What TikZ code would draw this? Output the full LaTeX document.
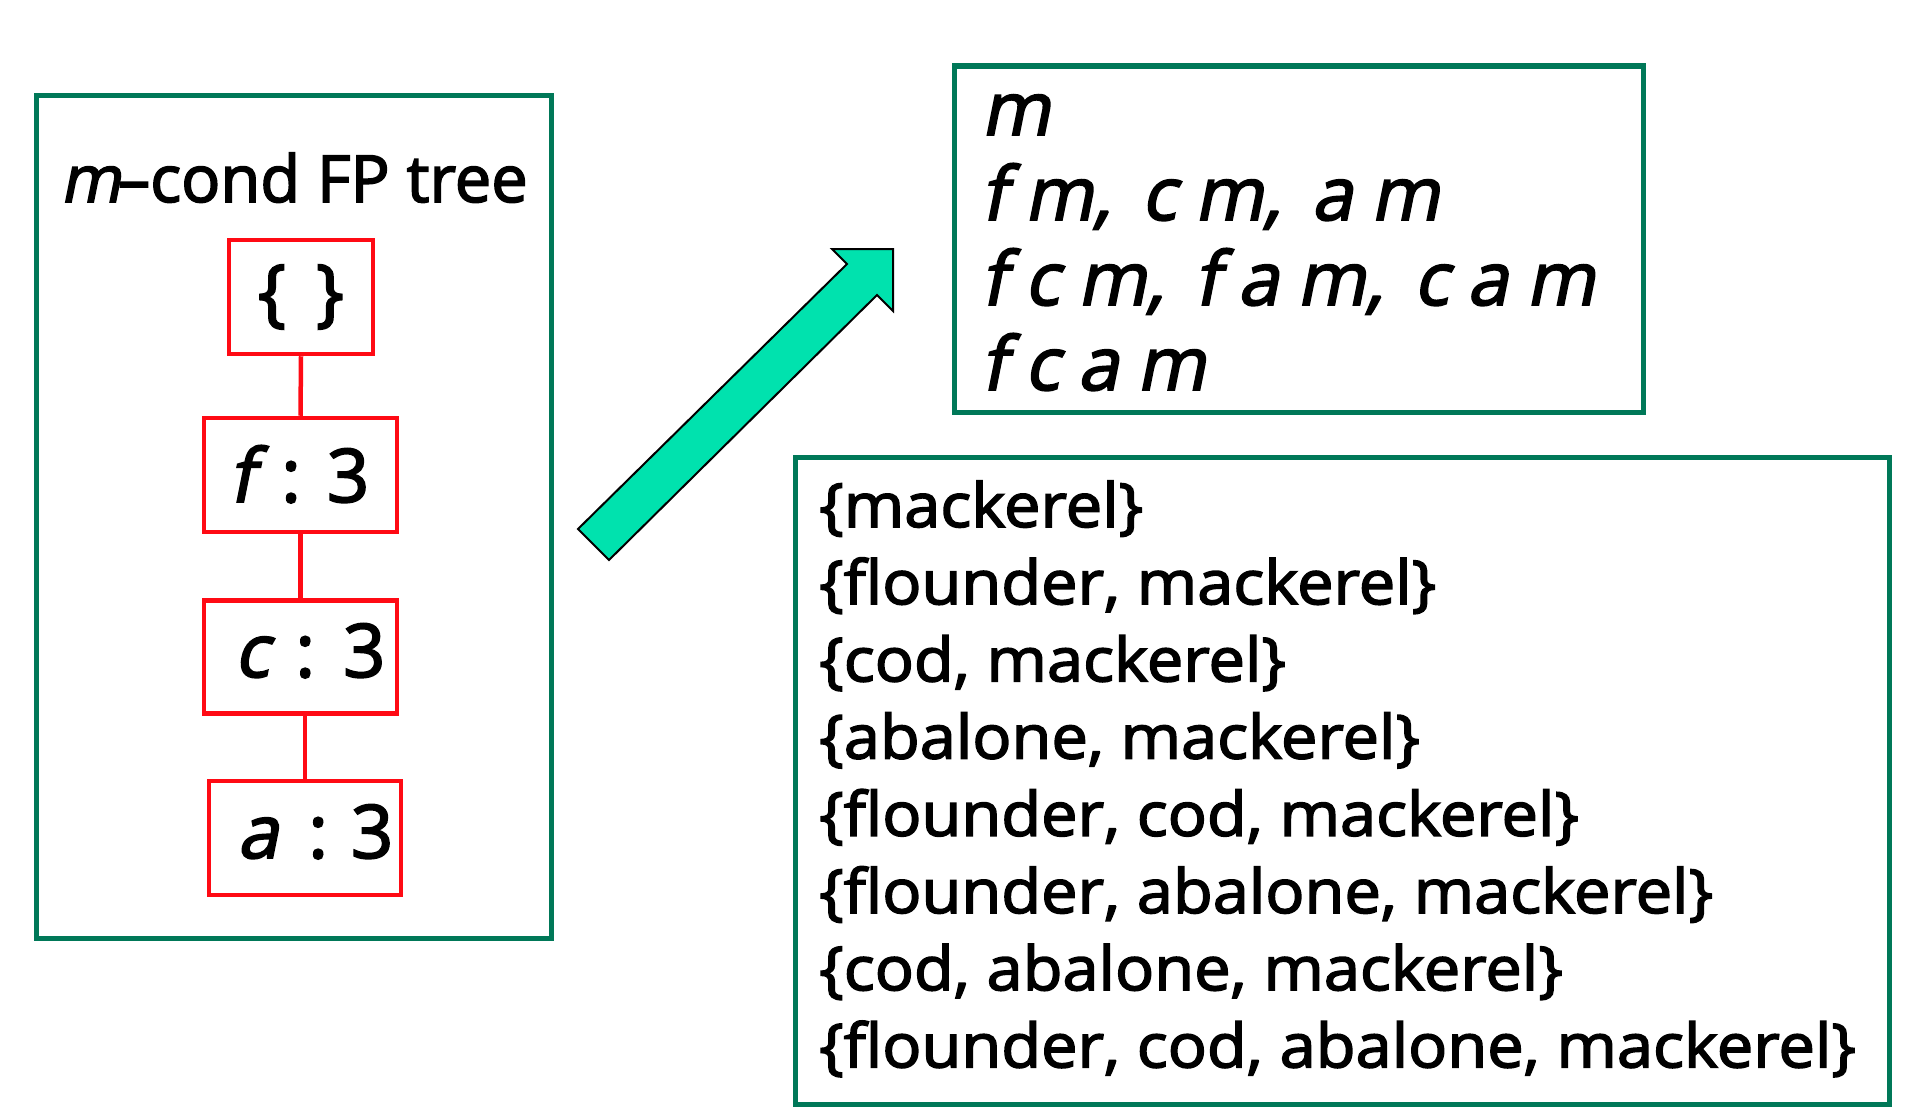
\documentclass[tikz,border=0pt]{standalone}
\usepackage{fontspec}
\setmainfont[FakeBold=2.5]{Open Sans}
\newfontfamily\slfont[FakeSlant=0.2,FakeBold=2.5]{Open Sans}
\newfontfamily\widefont[FakeStretch=1.065,FakeBold=2.5]{Open Sans}
\definecolor{boxgreen}{RGB}{0,120,88}
\definecolor{treered}{RGB}{255,10,20}
\definecolor{arrowfill}{RGB}{0,226,174}
\newcommand\lsp{\hspace{18pt}}
\newcommand\csp{\hspace{30pt}}
\begin{document}
\begin{tikzpicture}[x=1pt,y=-1pt,
  greenbox/.style={draw=boxgreen, line width=5pt},
  redbox/.style={draw=treered, line width=4.5pt, inner sep=0pt},
  redline/.style={draw=treered, line width=4.5pt},
  treetext/.style={font=\fontsize{74}{80}\selectfont, inner sep=0pt, anchor=base west},
  slanttext/.style={font=\slfont\fontsize{74}{80}\selectfont, inner sep=0pt, anchor=base west},
  settext/.style={font=\widefont\fontsize{61}{76}\selectfont, inner sep=0pt, anchor=base west},
  titletext/.style={font=\fontsize{65}{70}\selectfont, inner sep=0pt, anchor=base},
  bigarrow/.style={fill=arrowfill, draw=black, line width=2pt, line join=miter}
]
\useasboundingbox (0,0) rectangle (1918,1108);

% left frame
\draw[greenbox] (36,95) rectangle (551,938);
\node[titletext] (title) at (294,202) {{\slfont m}\hspace{-3pt}–cond FP tree};

% tree boxes
\node[redbox, minimum width=144pt, minimum height=114pt,
      font=\fontsize{74}{80}\selectfont] (r0) at (301,297) {\{\hspace{30pt}\}};
\node[redbox, minimum width=193pt, minimum height=114pt] (r1) at (300.5,475) {};
\node[redbox, minimum width=193pt, minimum height=113pt] (r2) at (300.5,657) {};
\node[redbox, minimum width=192pt, minimum height=114pt] (r3) at (305,838) {};

\node[treetext] (t1) at (229,502) {{\slfont f}\hspace{27pt}:\hspace{26pt}3};
\node[treetext] (t2) at (234,677) {{\slfont c}\hspace{26pt}:\hspace{28pt}3};
\node[treetext] (t3) at (237,858) {{\slfont a}\hspace{30pt}:\hspace{23pt}3};

\draw[redline] (r0.south) -- (r1.north);
\draw[redline] (r1.south) -- (r2.north);
\draw[redline] (r3.north) -- (r3.north |- r2.south);

% big arrow
\draw[bigarrow] (578,529) -- (847,264) -- (832,249) -- (893,249)
  -- (893,311) -- (877,295) -- (609,560) -- cycle;

% top-right frame
\draw[greenbox] (954,66) rectangle (1643,412);
\node[slanttext] (p1) at (981,135) {m};
\node[slanttext] (p2) at (981,220) {f\lsp m,\csp c\lsp m,\csp a\lsp m};
\node[slanttext] (p3) at (981,305) {f\lsp c\lsp m,\csp f\lsp a\lsp m,\csp c\lsp a\lsp m};
\node[slanttext] (p4) at (981,390) {f\lsp c\lsp a\lsp m};

% bottom-right frame
\draw[greenbox] (795,457) rectangle (1889,1104);
\node[settext] (s1) at (819,527) {\{mackerel\}};
\node[settext] (s2) at (819,604.2) {\{flounder, mackerel\}};
\node[settext] (s3) at (819,681.4) {\{cod, mackerel\}};
\node[settext] (s4) at (819,758.6) {\{abalone, mackerel\}};
\node[settext] (s5) at (819,835.8) {\{flounder, cod, mackerel\}};
\node[settext] (s6) at (819,913) {\{flounder, abalone, mackerel\}};
\node[settext] (s7) at (819,990.2) {\{cod, abalone, mackerel\}};
\node[settext] (s8) at (819,1067.4) {\{flounder, cod, abalone, mackerel\}};
\end{tikzpicture}
\end{document}
